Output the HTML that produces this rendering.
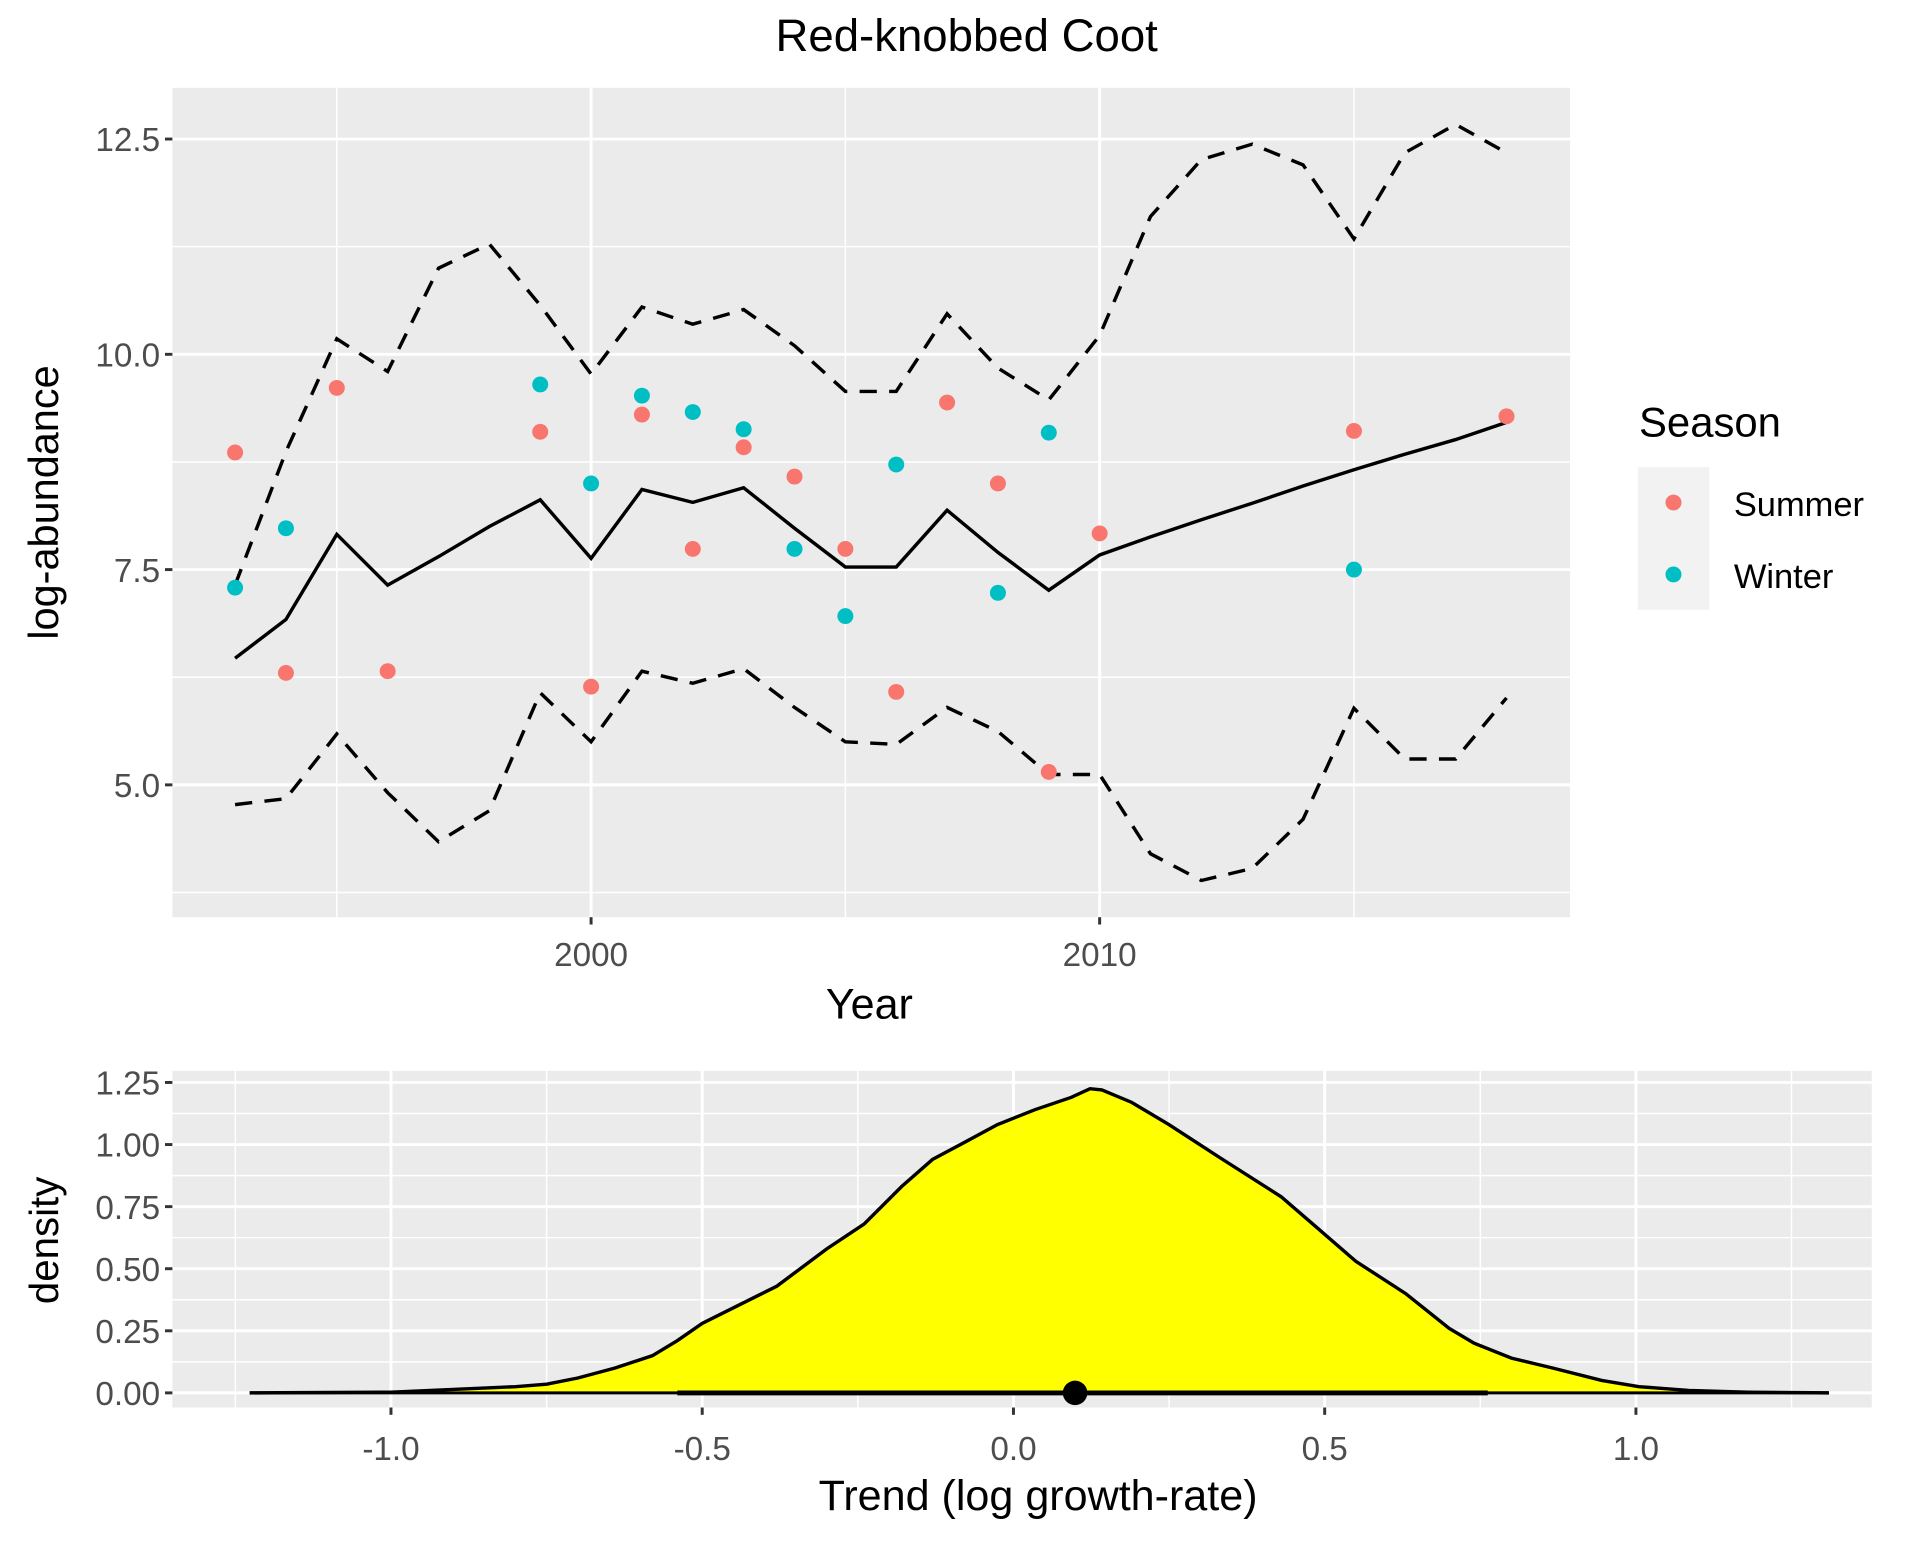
<!DOCTYPE html>
<html><head><meta charset="utf-8"><style>
html,body{margin:0;padding:0;background:#fff}
svg{display:block}
text{font-family:"Liberation Sans",Arial,sans-serif}
</style></head><body>
<svg id="chart" width="1921" height="1549" viewBox="0 0 1560 1270" preserveAspectRatio="none" xmlns="http://www.w3.org/2000/svg">
<text x="785" y="42" font-size="37" text-anchor="middle">Red-knobbed Coot</text>
<g id="top"></g>
<g id="bot"></g>
<g>
<text x="1331" y="358" font-size="34">Season</text>
<rect x="1330" y="383" width="58" height="117" fill="#f2f2f2"/>
<circle cx="1359" cy="412" r="6.5" fill="#F8766D"/>
<text x="1408" y="423" font-size="28">Summer</text>
<circle cx="1359" cy="471" r="6.5" fill="#00BFC4"/>
<text x="1408" y="482" font-size="28">Winter</text>
</g>
</svg>
<script>
const years=[1993,1994,1995,1996,1997,1998,1999,2000,2001,2002,2003,2004,2005,2006,2007,2008,2009,2010,2011,2012,2013,2014,2015,2016,2017,2018];
const trendVals=[6.47,6.92,7.91,7.32,7.65,8.0,8.31,7.63,8.43,8.28,8.45,7.98,7.53,7.53,8.19,7.7,7.26,7.67,7.88,8.08,8.27,8.47,8.66,8.84,9.01,9.21];
const upperVals=[7.32,8.87,10.18,9.8,11.0,11.28,10.57,9.77,10.55,10.35,10.52,10.1,9.57,9.57,10.47,9.84,9.47,10.22,11.6,12.26,12.44,12.2,11.34,12.34,12.67,12.34];
const lowerVals=[4.77,4.84,5.59,4.91,4.34,4.7,6.07,5.5,6.32,6.18,6.35,5.9,5.5,5.47,5.9,5.62,5.12,5.12,4.2,3.89,4.03,4.6,5.89,5.3,5.3,6.01];
const summerYears=[1993,1994,1995,1996,1999,2000,2001,2002,2003,2004,2005,2006,2007,2008,2009,2010,2015,2018];
const summerVals=[8.86,6.3,9.61,6.32,9.1,6.14,9.3,7.74,8.92,8.58,7.74,6.08,9.44,8.5,5.15,7.92,9.11,9.28];
const winterYears=[1993,1994,1999,2000,2001,2002,2003,2004,2005,2006,2008,2009,2015];
const winterVals=[7.29,7.98,9.65,8.5,9.52,9.33,9.13,7.74,6.96,8.72,7.23,9.09,7.5];
const yTicksTop=[5.0,7.5,10.0,12.5];
const yTickLabelsTop=["5.0","7.5","10.0","12.5"];
const xTicksTop=[2000,2010];
const densX=[-1.227,-1.0,-0.8,-0.75,-0.70,-0.64,-0.58,-0.54,-0.5,-0.46,-0.38,-0.30,-0.24,-0.18,-0.13,-0.085,-0.026,0.034,0.093,0.123,0.142,0.19,0.25,0.33,0.43,0.49,0.55,0.63,0.70,0.74,0.80,0.866,0.945,1.005,1.085,1.18,1.31];
const densY=[0,0.003,0.025,0.035,0.06,0.10,0.15,0.21,0.28,0.33,0.43,0.58,0.68,0.83,0.94,1.0,1.08,1.14,1.19,1.225,1.22,1.17,1.08,0.95,0.79,0.66,0.53,0.40,0.26,0.20,0.14,0.10,0.05,0.025,0.01,0.003,0];
const ciLow=-0.54, ciHigh=0.762, trendMedian=0.099;
const xTicksBot=[-1.0,-0.5,0.0,0.5,1.0];
const xTickLabelsBot=["-1.0","-0.5","0.0","0.5","1.0"];
const yTicksBot=[0,0.25,0.5,0.75,1.0,1.25];
const yTickLabelsBot=["0.00","0.25","0.50","0.75","1.00","1.25"];

const NS="http://www.w3.org/2000/svg";
function mk(parent,tag,attrs,name,txt){const e=document.createElementNS(NS,tag);for(const k in attrs)e.setAttribute(k,attrs[k]);


if(txt!==undefined)e.textContent=txt;parent.appendChild(e);return e;}

const T=document.getElementById('top');
const P={l:140,r:1275,t:72,b:752};
const xs=y=>480+(y-2000)*41.3;
const ys=v=>467-(v-7.5)*70.6;
mk(T,'rect',{x:P.l,y:P.t,width:P.r-P.l,height:P.b-P.t,fill:'#ebebeb'},'panel-background');
[3.75,6.25,8.75,11.25].forEach(v=>mk(T,'line',{x1:P.l,x2:P.r,y1:ys(v),y2:ys(v),stroke:'#fff','stroke-width':1.2},'minor-gridline-y'));
[1995,2005,2015].forEach(v=>mk(T,'line',{x1:xs(v),x2:xs(v),y1:P.t,y2:P.b,stroke:'#fff','stroke-width':1.2},'minor-gridline-x'));
yTicksTop.forEach((v,i)=>{mk(T,'line',{x1:P.l,x2:P.r,y1:ys(v),y2:ys(v),stroke:'#fff','stroke-width':2.4},'gridline-y');
mk(T,'line',{x1:P.l-6,x2:P.l,y1:ys(v),y2:ys(v),stroke:'#333','stroke-width':2.4},'y-tick');
mk(T,'text',{x:P.l-10,y:ys(v)+10,'font-size':27,fill:'#4d4d4d','text-anchor':'end'},'y-tick-label',yTickLabelsTop[i]);});
xTicksTop.forEach(v=>{mk(T,'line',{x1:xs(v),x2:xs(v),y1:P.t,y2:P.b,stroke:'#fff','stroke-width':2.4},'gridline-x');
mk(T,'line',{x1:xs(v),x2:xs(v),y1:P.b,y2:P.b+6,stroke:'#333','stroke-width':2.4},'x-tick');
mk(T,'text',{x:xs(v),y:P.b+40,'font-size':27,fill:'#4d4d4d','text-anchor':'middle'},'x-tick-label',String(v));});
const pts=(arr)=>arr.map((v,i)=>xs(years[i]).toFixed(1)+','+ys(v).toFixed(1)).join(' ');
mk(T,'polyline',{points:pts(upperVals),fill:'none',stroke:'#000','stroke-width':2.8,'stroke-dasharray':'14,10'},'upper-ci-line');
mk(T,'polyline',{points:pts(lowerVals),fill:'none',stroke:'#000','stroke-width':2.8,'stroke-dasharray':'14,10'},'lower-ci-line');
mk(T,'polyline',{points:pts(trendVals),fill:'none',stroke:'#000','stroke-width':2.8},'trend-line');
summerYears.forEach((y,i)=>mk(T,'circle',{cx:xs(y),cy:ys(summerVals[i]),r:6.5,fill:'#F8766D'},'summer-point'));
winterYears.forEach((y,i)=>mk(T,'circle',{cx:xs(y),cy:ys(winterVals[i]),r:6.5,fill:'#00BFC4'},'winter-point'));
mk(T,'text',{x:706,y:835,'font-size':35,'text-anchor':'middle'},'x-axis-title','Year');
mk(T,'text',{x:0,y:0,'font-size':34,'text-anchor':'middle',transform:'translate(47,412) rotate(-90)'},'y-axis-title','log-abundance');

const B=document.getElementById('bot');
const Q={l:140,r:1520,t:878,b:1154};
const xb=v=>823+v*505.5;
const yb=v=>1142-v*203.6;
mk(B,'rect',{x:Q.l,y:Q.t,width:Q.r-Q.l,height:Q.b-Q.t,fill:'#ebebeb'},'panel-background');
[0.125,0.375,0.625,0.875,1.125].forEach(v=>mk(B,'line',{x1:Q.l,x2:Q.r,y1:yb(v),y2:yb(v),stroke:'#fff','stroke-width':1.2},'minor-gridline-y'));
[-1.25,-0.75,-0.25,0.25,0.75,1.25].forEach(v=>mk(B,'line',{x1:xb(v),x2:xb(v),y1:Q.t,y2:Q.b,stroke:'#fff','stroke-width':1.2},'minor-gridline-x'));
yTicksBot.forEach((v,i)=>{mk(B,'line',{x1:Q.l,x2:Q.r,y1:yb(v),y2:yb(v),stroke:'#fff','stroke-width':2.4},'gridline-y');
mk(B,'line',{x1:Q.l-6,x2:Q.l,y1:yb(v),y2:yb(v),stroke:'#333','stroke-width':2.4},'y-tick');
mk(B,'text',{x:Q.l-10,y:yb(v)+10,'font-size':27,fill:'#4d4d4d','text-anchor':'end'},'y-tick-label',yTickLabelsBot[i]);});
xTicksBot.forEach((v,i)=>{mk(B,'line',{x1:xb(v),x2:xb(v),y1:Q.t,y2:Q.b,stroke:'#fff','stroke-width':2.4},'gridline-x');
mk(B,'line',{x1:xb(v),x2:xb(v),y1:Q.b,y2:Q.b+6,stroke:'#333','stroke-width':2.4},'x-tick');
mk(B,'text',{x:xb(v),y:Q.b+43,'font-size':27,fill:'#4d4d4d','text-anchor':'middle'},'x-tick-label',xTickLabelsBot[i]);});
const dpts=densX.map((x,i)=>xb(x).toFixed(1)+','+yb(densY[i]).toFixed(1));
mk(B,'polygon',{points:xb(densX[0])+','+yb(0)+' '+dpts.join(' ')+' '+xb(densX[densX.length-1])+','+yb(0),fill:'#ffff00'},'density-fill');
mk(B,'polyline',{points:dpts.join(' '),fill:'none',stroke:'#000','stroke-width':2.8},'density-curve');
mk(B,'line',{x1:xb(densX[0]),x2:xb(densX[densX.length-1]),y1:yb(0),y2:yb(0),stroke:'#000','stroke-width':2.4},'density-baseline');
mk(B,'line',{x1:xb(ciLow),x2:xb(ciHigh),y1:yb(0),y2:yb(0),stroke:'#000','stroke-width':4},'credible-interval');
mk(B,'circle',{cx:xb(trendMedian),cy:yb(0),r:10,fill:'#000'},'trend-median-point');
mk(B,'text',{x:843,y:1238,'font-size':35,'text-anchor':'middle'},'x-axis-title','Trend (log growth-rate)');
mk(B,'text',{x:0,y:0,'font-size':33,'text-anchor':'middle',transform:'translate(47,1017) rotate(-90)'},'y-axis-title','density');
</script>
</body></html>
